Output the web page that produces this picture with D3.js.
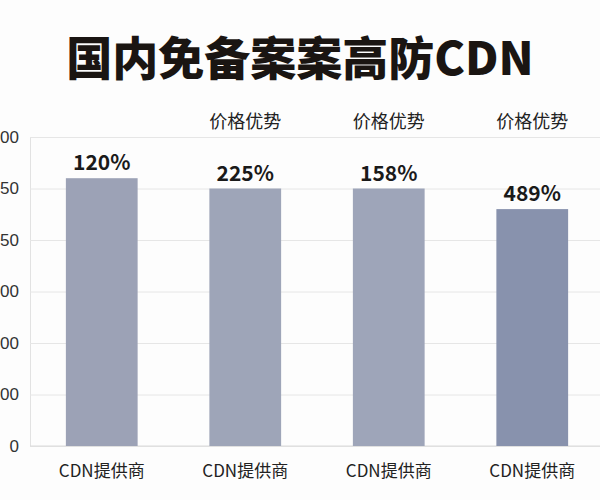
<!DOCTYPE html>
<html>
<head>
<meta charset="utf-8">
<script src="https://cdn.jsdelivr.net/npm/d3@7"></script>
<style>
  body { margin: 0; background: #fff; }
  svg { display: block; font-family: "Noto Sans CJK SC", "Noto Sans", sans-serif; }
</style>
</head>
<body>
<div id="chart"></div>
<script>
// data
const categories = ['CDN提供商', 'CDN提供商', 'CDN提供商', 'CDN提供商'];
const values = [520, 500, 500, 460];
const pctLabels = ['120%', '225%', '158%', '489%'];
const topNotes = ['', '价格优势', '价格优势', '价格优势'];
const yTicks = [0, 100, 200, 300, 400, 500, 600];
// only the visible part of the tick labels (the picture crops them at the left edge)
const yTickLabels = ['0', '00', '00', '00', '50', '50', '00'];
const barColors = ['#9ca2b6', '#9ea5b8', '#9ea5b9', '#8892ad'];

const width = 600, height = 500;
const margins = { top: 137, left: 30, right: -4, bottom: 54 };

let svg = d3.select('#chart').append('svg')
  .attr('width', width)
  .attr('height', height);

svg.append('rect').attr('width', width).attr('height', height).attr('fill', '#fdfdfd');

let xScale = d3.scaleBand()
  .domain(d3.range(categories.length))
  .range([margins.left, width - margins.right])
  .paddingInner(0.5)
  .paddingOuter(0.25);

let yScale = d3.scaleLinear()
  .domain([0, 600])
  .range([height - margins.bottom, margins.top]);

// grid + y labels
let yAxis = d3.axisLeft(yScale)
  .tickValues(yTicks)
  .tickSize(-(width - margins.left))
  .tickFormat((d, i) => yTickLabels[i]);

let gY = svg.append('g')
  .attr('class', 'y axis')
  .attr('transform', `translate(${margins.left},0)`)
  .call(yAxis);
gY.select('.domain').attr('stroke', '#e2e2e2');
gY.selectAll('.tick line').attr('stroke', '#e6e6e6');
gY.selectAll('.tick text')
  .attr('x', -11)
  .attr('font-size', '17px')
  .attr('fill', '#333')
  .attr('font-family', '"Liberation Sans", Arial, sans-serif');

// baseline
svg.append('line')
  .attr('x1', margins.left).attr('x2', width)
  .attr('y1', yScale(0)).attr('y2', yScale(0))
  .attr('stroke', '#dadada');

// bars
svg.append('g').selectAll('rect')
  .data(values)
  .enter()
  .append('rect')
  .attr('x', (d, i) => xScale(i))
  .attr('y', d => yScale(d))
  .attr('width', xScale.bandwidth())
  .attr('height', d => yScale(0) - yScale(d))
  .attr('fill', (d, i) => barColors[i]);

// percent labels above bars
svg.append('g').selectAll('text')
  .data(values)
  .enter()
  .append('text')
  .attr('x', (d, i) => xScale(i) + xScale.bandwidth() / 2)
  .attr('y', d => yScale(d) - 8)
  .attr('text-anchor', 'middle')
  .attr('font-size', '21px')
  .attr('font-weight', 'bold')
  .attr('fill', '#1a1a1a')
  .text((d, i) => pctLabels[i]);

// notes on top
svg.append('g').selectAll('text')
  .data(topNotes)
  .enter()
  .append('text')
  .attr('x', (d, i) => xScale(i) + xScale.bandwidth() / 2)
  .attr('y', 128)
  .attr('text-anchor', 'middle')
  .attr('font-size', '18px')
  .attr('fill', '#222')
  .text(d => d);

// category labels
svg.append('g').selectAll('text')
  .data(categories)
  .enter()
  .append('text')
  .attr('x', (d, i) => xScale(i) + xScale.bandwidth() / 2)
  .attr('y', 477)
  .attr('text-anchor', 'middle')
  .attr('font-size', '17px')
  .attr('fill', '#222')
  .text(d => d);

// title
svg.append('text')
  .attr('x', 300)
  .attr('y', 75)
  .attr('text-anchor', 'middle')
  .attr('font-size', '46px')
  .attr('font-weight', 900)
  .attr('fill', '#1a1512')
  .text('国内免备案案高防CDN');
</script>
</body>
</html>
